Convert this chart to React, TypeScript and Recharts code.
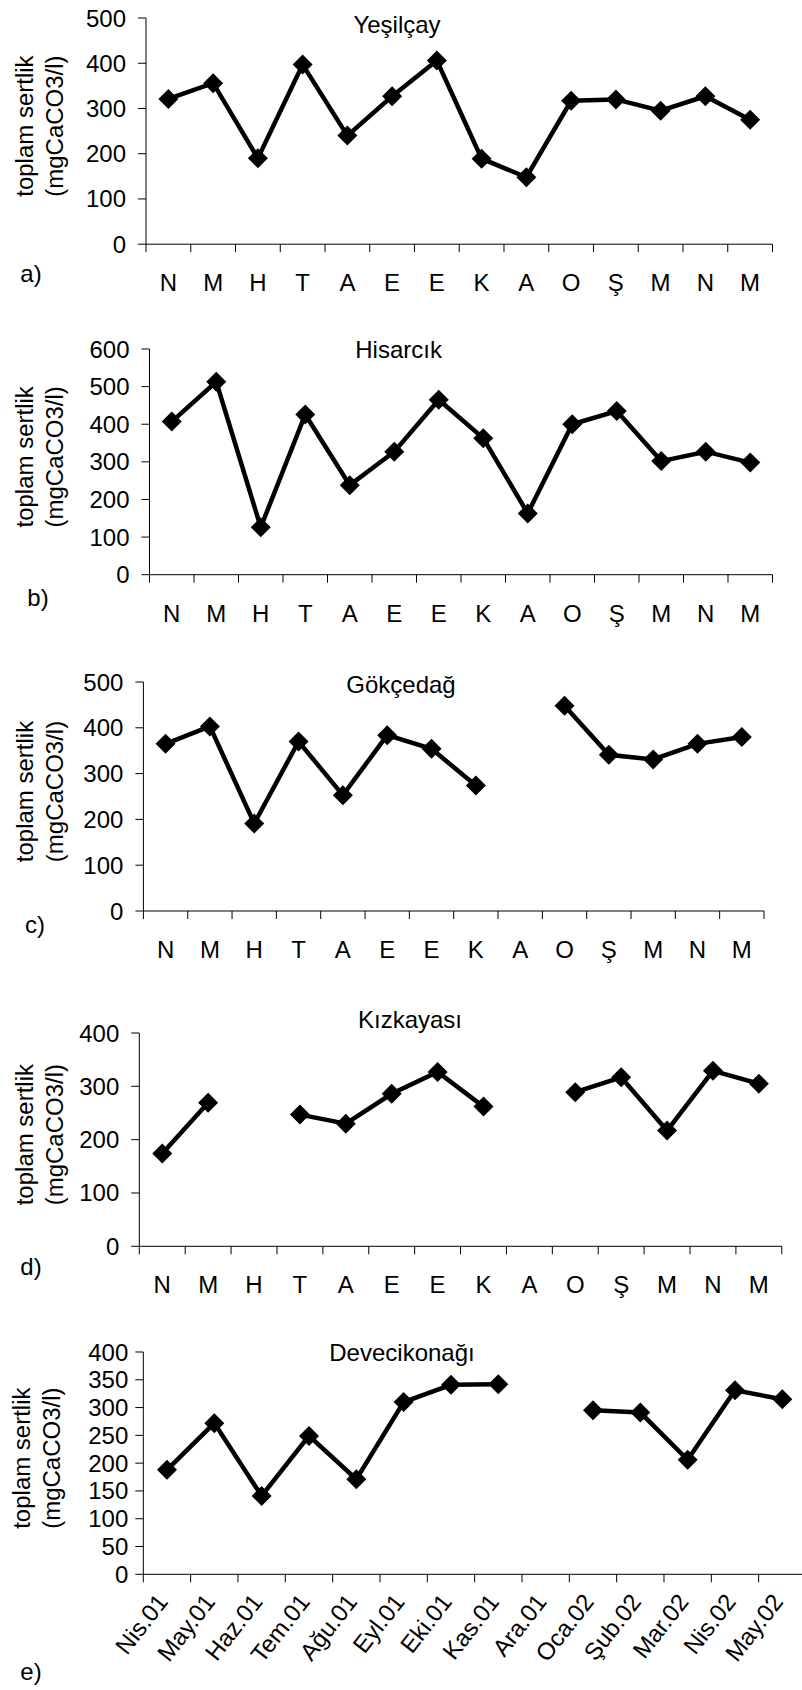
import React from "react";
import { LineChart, Line, XAxis, YAxis } from "recharts";

const FONT = '"Liberation Sans", Arial, Helvetica, sans-serif';

const shortMonths = ["N", "M", "H", "T", "A", "E", "E", "K", "A", "O", "Ş", "M", "N", "M"];
const longMonths = [
  "Nis.01", "May.01", "Haz.01", "Tem.01", "Ağu.01", "Eyl.01", "Eki.01",
  "Kas.01", "Ara.01", "Oca.02", "Şub.02", "Mar.02", "Nis.02", "May.02"
];

const yesilcay = [321, 356, 190, 397, 240, 327, 406, 189, 148, 317, 320, 295, 327, 275];
const hisarcik = [407, 513, 126, 426, 238, 327, 465, 363, 163, 400, 435, 302, 327, 298];
const gokcedag = [365, 403, 191, 370, 253, 384, 354, 274, null, 448, 341, 331, 365, 380];
const kizkayasi = [174, 269, null, 247, 230, 286, 327, 262, null, 289, 317, 217, 329, 305];
const devecikonagi = [188, 272, 141, 249, 171, 310, 341, 342, null, 295, 291, 206, 331, 315];

const ticks500 = [0, 100, 200, 300, 400, 500];
const ticks600 = [0, 100, 200, 300, 400, 500, 600];
const ticks400 = [0, 100, 200, 300, 400];
const ticks400by50 = [0, 50, 100, 150, 200, 250, 300, 350, 400];

const catTicks = Array.from({ length: 15 }, (_, i) => i);

type PanelProps = {
  title: string;
  letter: string;
  labels: string[];
  values: (number | null)[];
  yTicks: number[];
  left: number;
  top: number;
  right: number;
  bottom: number;
  titleX: number;
  titleY: number;
  letterX: number;
  letterY: number;
  tickGap: number;
  labelX?: number;
  rotated?: boolean;
  chartW?: number;
};

const Diamond = (p: any) => {
  const { cx, cy, index } = p;
  if (cx == null || cy == null || p.value == null) return <g key={"d" + index} />;
  const r = 10;
  return (
    <polygon
      key={"d" + index}
      points={`${cx},${cy - r} ${cx + r},${cy} ${cx},${cy + r} ${cx - r},${cy}`}
      fill="#000"
    />
  );
};

const Panel = (props: PanelProps) => {
  const { labels, values, yTicks, left, top, right, bottom, rotated } = props;
  const W = props.chartW ?? 802;
  const padTop = 25;
  const xAxisH = rotated ? 110 : 60;
  const plotH = bottom - top;
  const halfBand = (right - left) / 28;
  const lx = props.labelX ?? 33;
  const rows = labels.map((l, i) => ({ x: i + 0.5, label: l, v: values[i] }));

  const renderTick = (p: any) => {
    const i = p.payload.value;
    if (i >= labels.length) return <g />;
    const cx = p.x + halfBand;
    if (rotated) {
      const ax = cx + 2;
      const ay = plotH + padTop + 28;
      return (
        <text
          x={ax}
          y={ay}
          textAnchor="end"
          transform={`rotate(-52, ${ax}, ${ay})`}
          fontSize={24}
          fontFamily={FONT}
          fill="#000"
        >
          {labels[i]}
        </text>
      );
    }
    return (
      <text x={cx} y={p.y} dy="0.71em" textAnchor="middle" fontSize={24} fontFamily={FONT} fill="#000">
        {labels[i]}
      </text>
    );
  };

  const yLabel = (p: any) => {
    const vb = p.viewBox;
    const cy = vb.y + vb.height / 2 - 5;
    return (
      <g>
        <text transform={`translate(${lx}, ${cy}) rotate(-90)`} textAnchor="middle" fontSize={24} fontFamily={FONT} fill="#000">
          toplam sertlik
        </text>
        <text transform={`translate(${lx + 30}, ${cy}) rotate(-90)`} textAnchor="middle" fontSize={24} fontFamily={FONT} fill="#000">
          (mgCaCO3/l)
        </text>
      </g>
    );
  };

  return (
    <>
      <div style={{ position: "absolute", left: 0, top: top - padTop }}>
        <LineChart
          width={W}
          height={padTop + plotH + xAxisH}
          data={rows}
          margin={{ top: padTop, right: W - right, left: 0, bottom: 0 }}
        >
          <XAxis
            type="number"
            dataKey="x"
            domain={[0, labels.length]}
            ticks={catTicks}
            interval={0}
            height={xAxisH}
            tickSize={8}
            tickMargin={22}
            axisLine={{ stroke: "#000", strokeWidth: 1 }}
            tickLine={{ stroke: "#000", strokeWidth: 1 }}
            tick={renderTick}
          />
          <YAxis
            type="number"
            domain={[0, yTicks[yTicks.length - 1]]}
            ticks={yTicks}
            interval={0}
            width={left}
            tickSize={8}
            tickMargin={props.tickGap}
            axisLine={{ stroke: "#000", strokeWidth: 1 }}
            tickLine={{ stroke: "#000", strokeWidth: 1 }}
            tick={{ fill: "#000", fontSize: 24, fontFamily: FONT }}
            label={yLabel}
          />
          <Line
            type="linear"
            dataKey="v"
            stroke="#000"
            strokeWidth={4.5}
            connectNulls={false}
            dot={Diamond}
            activeDot={false}
            isAnimationActive={false}
          />
        </LineChart>
      </div>
      <div
        style={{
          position: "absolute",
          left: props.titleX,
          top: props.titleY,
          transform: "translate(-50%, -50%)",
          fontFamily: FONT,
          fontSize: 24,
          whiteSpace: "nowrap",
          lineHeight: 1
        }}
      >
        {props.title}
      </div>
      <div
        style={{
          position: "absolute",
          left: props.letterX,
          top: props.letterY,
          transform: "translate(-50%, -50%)",
          fontFamily: FONT,
          fontSize: 24,
          whiteSpace: "nowrap",
          lineHeight: 1
        }}
      >
        {props.letter}
      </div>
    </>
  );
};

export default function App() {
  return (
    <div
      style={{
        position: "absolute",
        left: 0,
        top: 0,
        width: 802,
        height: 1690,
        overflow: "hidden",
        background: "#fff"
      }}
    >
      <Panel
        title="Yeşilçay" letter="a)" labels={shortMonths} values={yesilcay} yTicks={ticks500}
        left={146} top={17.5} right={772.5} bottom={243.7}
        titleX={397} titleY={25} letterX={31} letterY={274} tickGap={12}
      />
      <Panel
        title="Hisarcık" letter="b)" labels={shortMonths} values={hisarcik} yTicks={ticks600}
        left={149.5} top={349} right={772.5} bottom={574.7}
        titleX={398.6} titleY={350} letterX={38} letterY={598} tickGap={12}
      />
      <Panel
        title="Gökçedağ" letter="c)" labels={shortMonths} values={gokcedag} yTicks={ticks500}
        left={143.4} top={681.7} right={764} bottom={910.7}
        titleX={401} titleY={685} letterX={35} letterY={925} tickGap={12}
      />
      <Panel
        title="Kızkayası" letter="d)" labels={shortMonths} values={kizkayasi} yTicks={ticks400}
        left={139.3} top={1032.7} right={781.8} bottom={1246}
        titleX={410} titleY={1020} letterX={31} letterY={1267} tickGap={12}
      />
      <Panel
        title="Devecikonağı" letter="e)" labels={longMonths} values={devecikonagi} yTicks={ticks400by50}
        left={143.3} top={1351.7} right={806} bottom={1574}
        titleX={402} titleY={1353} letterX={31} letterY={1672} tickGap={7}
        labelX={30} rotated chartW={810}
      />
    </div>
  );
}
